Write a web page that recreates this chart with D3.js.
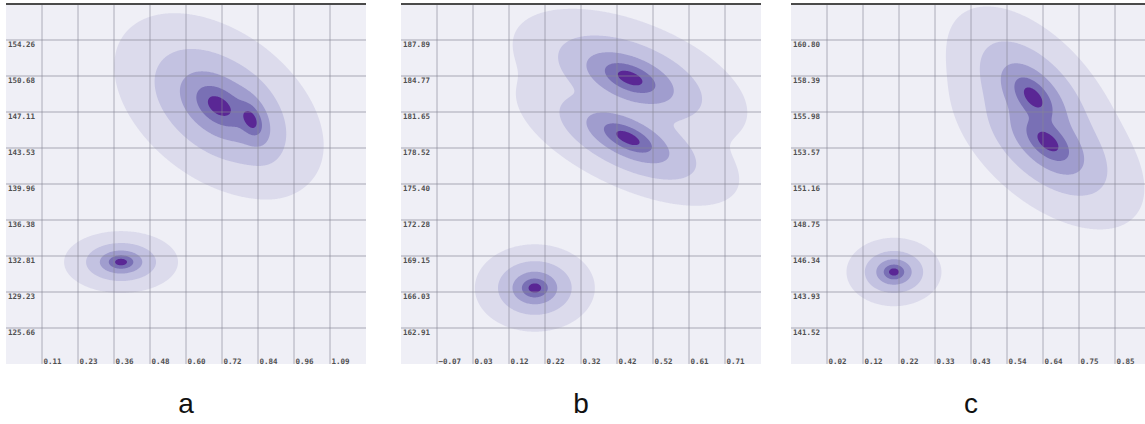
<!DOCTYPE html>
<html>
<head>
<meta charset="utf-8">
<script src="https://cdn.jsdelivr.net/npm/d3@7"></script>
<style>
body { margin: 0; background: #fff; }
.tick-label { font-family: "DejaVu Sans Mono", monospace; font-size: 7.5px; fill: #505050; font-weight: bold; }
.panel-label { font-family: "Liberation Sans", Arial, sans-serif; font-size: 28px; fill: #111; }
</style>
</head>
<body>
<div id="chart"></div>
<script>
// tick labels of each panel
const xTicksA = [0.11, 0.23, 0.36, 0.48, 0.60, 0.72, 0.84, 0.96, 1.09]
const yTicksA = [154.26, 150.68, 147.11, 143.53, 139.96, 136.38, 132.81, 129.23, 125.66]
const xTicksB = [-0.07, 0.03, 0.12, 0.22, 0.32, 0.42, 0.52, 0.61, 0.71]
const yTicksB = [187.89, 184.77, 181.65, 178.52, 175.40, 172.28, 169.15, 166.03, 162.91]
const xTicksC = [0.02, 0.12, 0.22, 0.33, 0.43, 0.54, 0.64, 0.75, 0.85]
const yTicksC = [160.80, 158.39, 155.98, 153.57, 151.16, 148.75, 146.34, 143.93, 141.52]

// density components (centre, spread, correlation, weight)
const blobsA = [
    {x: 0.379, y: 132.21, sx: 0.0204, sy: 0.323, rho: 0, w: 1},
    {x: 0.712, y: 147.71, sx: 0.0375, sy: 0.970, rho: -0.426, w: 1},
    {x: 0.821, y: 146.32, sx: 0.0166, sy: 0.664, rho: -0.378, w: 1}
]
const blobsB = [
    {x: 0.195, y: 166.38, sx: 0.0171, sy: 0.399, rho: 0, w: 1},
    {x: 0.453, y: 184.59, sx: 0.0334, sy: 0.632, rho: -0.495, w: 1},
    {x: 0.447, y: 179.39, sx: 0.0317, sy: 0.619, rho: -0.614, w: 1}
]
const blobsC = [
    {x: 0.213, y: 145.27, sx: 0.0144, sy: 0.241, rho: 0, w: 1},
    {x: 0.614, y: 156.98, sx: 0.0260, sy: 0.638, rho: -0.536, w: 1},
    {x: 0.657, y: 153.97, sx: 0.0291, sy: 0.615, rho: -0.54, w: 1}
]

// contour levels
const levels = [0.000193, 0.0073, 0.0686, 0.278, 0.661]
const levelColors = ["#dcdbec", "#c3c2e1", "#a09dce", "#7970b5", "#5a2795"]

const panels = [
    {name: "a", xTicks: xTicksA, yTicks: yTicksA, blobs: blobsA, left: 6},
    {name: "b", xTicks: xTicksB, yTicks: yTicksB, blobs: blobsB, left: 401},
    {name: "c", xTicks: xTicksC, yTicks: yTicksC, blobs: blobsC, left: 791}
]

//Constantes
const width = 1145
const height = 424
const size = 360
const top0 = 4

const svg = d3.select("#chart")
    .append("svg")
    .attr("width", width)
    .attr("height", height)

const fmt = d3.format(".2f")

function density(blobs, x, y) {
    let f = 0
    blobs.forEach(b => {
        const zx = (x - b.x) / b.sx
        const zy = (y - b.y) / b.sy
        const q = (zx * zx - 2 * b.rho * zx * zy + zy * zy) / (1 - b.rho * b.rho)
        f += b.w * Math.exp(1 - Math.sqrt(1 + q))
    })
    return f
}

panels.forEach(p => {
    const g = svg.append("g")
        .attr("transform", `translate(${p.left}, ${top0})`)

    // escalas: lineales para la densidad, de puntos para la rejilla
    const x = d3.scaleLinear().domain([p.xTicks[0], p.xTicks[8]]).range([36, 324])
    const y = d3.scaleLinear().domain([p.yTicks[0], p.yTicks[8]]).range([36, 324])
    const xGrid = d3.scalePoint().domain(p.xTicks).range([36, 324])
    const yGrid = d3.scalePoint().domain(p.yTicks).range([36, 324])

    g.append("rect")
        .attr("width", size)
        .attr("height", size)
        .attr("fill", "#efeff6")

    const values = new Array(size * size)
    for (let j = 0; j < size; j++) {
        const yv = y.invert(j + 0.5)
        for (let i = 0; i < size; i++) {
            values[j * size + i] = density(p.blobs, x.invert(i + 0.5), yv)
        }
    }

    const contours = d3.contours().size([size, size]).thresholds(levels)(values)

    g.selectAll("path.level")
        .data(contours)
        .enter()
        .append("path")
        .attr("class", "level")
        .attr("d", d3.geoPath())
        .attr("fill", (d, i) => levelColors[i])

    // rejilla
    g.selectAll("line.vgrid")
        .data(p.xTicks)
        .enter()
        .append("line")
        .attr("x1", d => xGrid(d))
        .attr("x2", d => xGrid(d))
        .attr("y1", 0)
        .attr("y2", size)
        .attr("stroke", "#868694")
        .attr("stroke-opacity", 0.45)
        .attr("stroke-width", 1.4)

    g.selectAll("line.hgrid")
        .data(p.yTicks)
        .enter()
        .append("line")
        .attr("x1", 0)
        .attr("x2", size)
        .attr("y1", d => yGrid(d))
        .attr("y2", d => yGrid(d))
        .attr("stroke", "#868694")
        .attr("stroke-opacity", 0.45)
        .attr("stroke-width", 1.4)

    g.append("line")
        .attr("x1", 0)
        .attr("x2", size)
        .attr("y1", 0)
        .attr("y2", 0)
        .attr("stroke", "#4a4a4a")
        .attr("stroke-width", 2)

    g.selectAll("text.ylab")
        .data(p.yTicks)
        .enter()
        .append("text")
        .attr("class", "tick-label")
        .attr("x", 2)
        .attr("y", d => yGrid(d) + 6.5)
        .text(d => fmt(d))

    g.selectAll("text.xlab")
        .data(p.xTicks)
        .enter()
        .append("text")
        .attr("class", "tick-label")
        .attr("x", d => xGrid(d) + 1.5)
        .attr("y", 357.5)
        .attr("dy", "2.5")
        .text(d => fmt(d))

    svg.append("text")
        .attr("class", "panel-label")
        .attr("x", p.left + size / 2)
        .attr("y", 413)
        .attr("text-anchor", "middle")
        .text(p.name)
})
</script>
</body>
</html>
